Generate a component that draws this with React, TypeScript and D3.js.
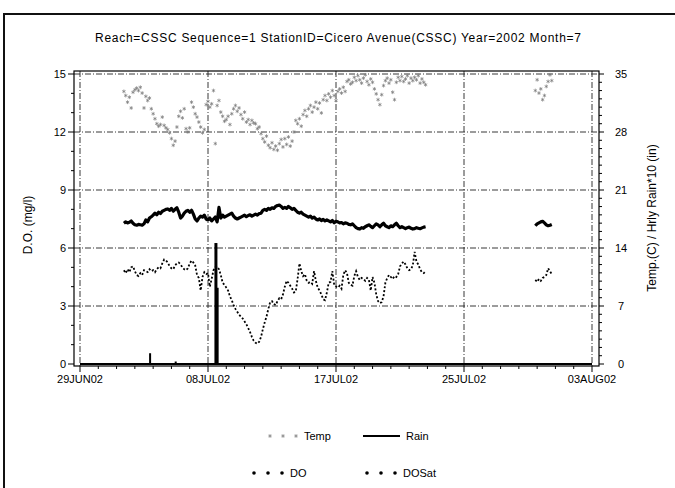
import React from 'react';
import * as d3 from 'd3';

const W = 675;
const H = 488;

const titleText = 'Reach=CSSC Sequence=1 StationID=Cicero Avenue(CSSC) Year=2002 Month=7';
const yLeftLabel = 'D.O. (mg/l)';
const yRightLabel = 'Temp.(C) / Hrly Rain*10 (in)';

const axisStart = '2002-06-29T00:00';
const axisEnd = '2002-08-03T00:00';
const xTickLabels = ['29JUN02', '08JUL02', '17JUL02', '25JUL02', '03AUG02'];
const leftTicks = [0, 3, 6, 9, 12, 15];
const rightTicks = [0, 7, 14, 21, 28, 35];

// 3-hourly readings, first segment starts 02JUL02 00:00
const seg1Start = '2002-07-02T00:00';
// second segment starts 30JUL02 03:00
const seg2Start = '2002-07-30T03:00';
const stepHours = 3;

const temp1 = [
  32.9, 32.4, 31.6, 32.2, 30.9, 32.8, 33.1, 33.3,
  33.0, 33.4, 32.7, 30.9, 32.3, 31.8, 32.1, 30.8,
  30.2, 29.6, 29.0, 28.7, 28.9, 29.8, 28.8, 28.5,
  28.3, 27.9, 27.2, 26.4, 26.9, 28.6, 29.9, 30.5,
  29.7, 30.8, 28.4, 28.0, 28.5, 31.6, 31.0, 30.2,
  29.8, 29.2, 28.6, 27.9, 28.3, 31.3, 31.7, 31.0,
  31.4, 33.0, 26.6, 31.2, 31.8, 30.4, 29.9, 29.3,
  29.5, 29.9, 28.9, 30.2, 30.8, 31.2, 30.5, 30.9,
  30.1, 29.6, 30.4, 29.2, 29.5, 28.9, 29.4, 29.1,
  29.0, 28.4, 28.6, 27.8, 27.2, 26.8, 27.5, 26.4,
  26.1, 26.7, 25.9, 26.3, 25.8, 26.6, 27.1, 26.2,
  27.2, 26.5, 27.4, 26.3, 26.9, 28.0, 29.4, 29.0,
  29.6, 28.7, 30.1, 30.6, 29.9, 30.8, 31.2, 30.4,
  31.0, 31.6, 30.8, 31.5, 30.3, 31.9, 32.4, 31.8,
  32.6, 32.2, 33.0, 32.4, 31.8, 32.9, 33.2, 32.7,
  33.4, 32.9, 34.1, 34.3, 33.8, 34.0, 34.6, 34.2,
  34.8, 34.3, 33.9, 34.5, 34.9, 34.1, 33.7, 34.4,
  34.0, 33.2, 32.6, 31.9, 31.3, 32.5, 33.6, 34.2,
  34.5, 33.9, 34.3, 32.8, 31.9, 34.0, 34.6, 34.2,
  34.7, 34.1, 34.4, 34.8, 33.9, 34.5, 34.2, 34.6,
  34.3, 34.8, 33.9, 34.4, 34.0, 33.7,
];
const temp2 = [33.0, 34.3, 32.7, 33.2, 31.9, 32.4, 33.5, 34.1, 34.9, 34.2];

const doSat1 = [
  7.28, 7.35, 7.30, 7.33, 7.40, 7.28, 7.20, 7.18,
  7.22, 7.20, 7.18, 7.25, 7.45, 7.35, 7.55, 7.62,
  7.70, 7.80, 7.72, 7.85, 7.78, 7.90, 7.95, 8.00,
  8.02, 7.95, 8.05, 7.90, 8.00, 8.08, 7.85, 7.55,
  7.65, 7.80, 7.90, 7.95, 7.85, 7.95, 7.75, 7.50,
  7.40, 7.55, 7.65, 7.60, 7.70, 7.50, 7.45, 7.55,
  7.40, 7.50, 7.60, 7.35, 8.10, 7.55, 7.70, 7.60,
  7.65, 7.70, 7.75, 7.80, 7.65, 7.55, 7.50, 7.55,
  7.60, 7.65, 7.70, 7.62, 7.68, 7.72, 7.65, 7.70,
  7.75, 7.70, 7.78, 7.80, 7.95, 8.00, 7.95, 8.05,
  8.00, 8.08, 8.05, 8.15, 8.20, 8.22, 8.15, 8.05,
  8.10, 8.05, 8.15, 8.08, 8.00, 8.05, 7.95, 7.85,
  7.80, 7.85, 7.75, 7.70, 7.65, 7.60, 7.65, 7.55,
  7.60, 7.50, 7.45, 7.50, 7.42, 7.48, 7.40, 7.45,
  7.40, 7.35, 7.42, 7.30, 7.38, 7.35, 7.30, 7.32,
  7.25, 7.30, 7.28, 7.22, 7.20, 7.25, 7.15, 7.05,
  7.00, 6.98, 7.05, 7.02, 7.10, 7.15, 7.20, 7.12,
  7.05, 7.15, 7.25, 7.20, 7.10, 7.20, 7.28, 7.15,
  7.10, 7.05, 7.15, 7.10, 7.20, 7.28, 7.15, 7.05,
  7.10, 7.05, 7.00, 7.05, 7.08, 7.02, 6.98, 7.00,
  7.05, 7.02, 7.00, 7.04, 7.08, 7.10,
];
const doSat2 = [7.15, 7.25, 7.30, 7.35, 7.38, 7.30, 7.20, 7.15, 7.18, 7.22];

const do1 = [
  4.85, 4.70, 4.90, 4.75, 5.00, 5.05, 4.80, 4.60,
  4.55, 4.70, 4.60, 4.85, 4.80, 4.75, 4.90, 4.80,
  4.85, 4.75, 4.90, 5.00, 4.95, 5.20, 5.40, 5.35,
  5.25, 5.05, 4.95, 4.90, 5.10, 5.20, 5.25, 5.15,
  5.00, 4.90, 4.85, 4.95, 5.20, 5.35, 5.25, 5.10,
  4.60, 4.45, 3.80, 4.50, 4.75, 4.65, 4.70, 4.00,
  4.40, 4.85, 5.00, 5.05, 4.90, 4.60, 4.20, 4.10,
  3.95, 3.80, 3.50, 3.30, 3.05, 2.85, 2.70, 2.55,
  2.45, 2.35, 2.20, 2.05, 1.85, 1.65, 1.40, 1.20,
  1.10, 1.05, 1.15, 1.40, 1.80, 2.15, 2.45, 2.85,
  3.20, 3.25, 3.10, 3.05, 3.25, 3.40, 3.35, 3.60,
  4.00, 4.30, 4.20, 4.05, 3.90, 3.70, 3.75, 4.40,
  5.20, 4.80, 4.55, 4.65, 4.30, 4.20, 4.25, 4.15,
  4.80, 4.30, 3.95, 3.80, 3.60, 3.35, 3.30, 3.70,
  4.20, 4.25, 4.80, 4.10, 4.00, 3.95, 4.05, 3.90,
  4.60, 4.85, 4.70, 4.20, 4.10, 4.05, 4.55, 4.80,
  4.50, 4.35, 4.45, 4.40, 4.30, 4.45, 4.35, 3.80,
  4.50, 4.20, 3.60, 3.25, 3.15, 3.20, 3.50, 4.20,
  4.45, 4.60, 4.50, 4.40, 4.55, 4.50, 4.65, 5.05,
  5.20, 5.30, 5.15, 4.95, 4.85, 4.90, 5.10, 5.80,
  5.30, 5.15, 4.90, 4.75, 4.70, 4.80,
];
const do2 = [4.35, 4.25, 4.40, 4.30, 4.45, 4.50, 4.60, 4.95, 4.80, 4.65];

const rainTimes = ['2002-07-03T19:00', '2002-07-05T13:00', '2002-07-08T07:00', '2002-07-08T09:00'];
const rainValues = [1.3, 0.3, 14.6, 9.2];

const parse = d3.timeParse('%Y-%m-%dT%H:%M');

function toPoints(start: string, vals: number[]) {
  const t0 = parse(start) as Date;
  return vals.map((v, i) => ({ t: d3.timeHour.offset(t0, i * stepHours), v }));
}

export default function App() {
  const t0 = parse(axisStart) as Date;
  const t1 = parse(axisEnd) as Date;
  const x = d3.scaleTime().domain([t0, t1]).range([80, 592]);
  const yL = d3.scaleLinear().domain([0, 15]).range([364, 74]);
  const yR = d3.scaleLinear().domain([0, 35]).range([364, 74]);

  const frame = { l: 74, r: 599, t: 71, b: 366 };
  const nMaj = xTickLabels.length;
  const majorDates = d3.range(nMaj).map((i) => new Date(+t0 + (i * (+t1 - +t0)) / (nMaj - 1)));
  const minorDates: Date[] = [];
  for (let i = 0; i < nMaj - 1; i++) {
    for (let k = 1; k < 7; k++) {
      minorDates.push(new Date(+majorDates[i] + (k * (+majorDates[i + 1] - +majorDates[i])) / 7));
    }
  }
  const leftMinor = d3.range(0, 16).filter((v) => v % 3 !== 0);
  const rightMinor = d3.range(0, 36).filter((v) => v % 7 !== 0);

  const lineL = d3.line<{ t: Date; v: number }>().x((d) => x(d.t)).y((d) => yL(d.v));
  const tempPts = [...toPoints(seg1Start, temp1), ...toPoints(seg2Start, temp2)];
  const doSatSegs = [toPoints(seg1Start, doSat1), toPoints(seg2Start, doSat2)];
  const doSegs = [toPoints(seg1Start, do1), toPoints(seg2Start, do2)];
  const rain = rainTimes.map((s, i) => ({ t: parse(s) as Date, v: rainValues[i] }));

  const star = d3.symbol().type(d3.symbolAsterisk).size(10)() as string;
  const grid = '6 2 1 2';
  const font = '"Liberation Sans", Arial, Helvetica, sans-serif';

  return (
    <svg width={W} height={H} style={{ position: 'absolute', left: 0, top: 0, background: '#fff' }} fontFamily={font}>
      <rect x={0} y={0} width={W} height={H} fill="#fff" />
      <path d={`M4,${H} V14 H${W}`} fill="none" stroke="#111" strokeWidth={2} />
      <text x={338} y={42} fontSize={12} textAnchor="middle" textLength={486} lengthAdjust="spacing">{titleText}</text>

      {/* gridlines */}
      {leftTicks.filter((v) => v > 0).map((v) => (
        <line key={'hg' + v} x1={frame.l} x2={frame.r} y1={yL(v)} y2={yL(v)} stroke="#222" strokeWidth={0.9} strokeDasharray={grid} />
      ))}
      {majorDates.map((d, i) => (
        <line key={'vg' + i} x1={x(d)} x2={x(d)} y1={frame.t} y2={frame.b} stroke="#222" strokeWidth={0.9} strokeDasharray={grid} />
      ))}

      {/* frame */}
      <rect x={frame.l} y={frame.t} width={frame.r - frame.l} height={frame.b - frame.t} fill="none" stroke="#000" strokeWidth={1.2} />

      {/* left axis */}
      {leftTicks.map((v) => (
        <g key={'lt' + v}>
          <line x1={frame.l - 6} x2={frame.l} y1={yL(v)} y2={yL(v)} stroke="#000" />
          <text x={frame.l - 8} y={yL(v) + 4} fontSize={11} textAnchor="end">{v}</text>
        </g>
      ))}
      {leftMinor.map((v) => (
        <line key={'lm' + v} x1={frame.l - 3} x2={frame.l} y1={yL(v)} y2={yL(v)} stroke="#000" />
      ))}
      {/* right axis */}
      {rightTicks.map((v) => (
        <g key={'rt' + v}>
          <line x1={frame.r} x2={frame.r + 5} y1={yR(v)} y2={yR(v)} stroke="#000" />
          <text x={621} y={yR(v) + 4} fontSize={11} textAnchor="middle">{v}</text>
        </g>
      ))}
      {rightMinor.map((v) => (
        <line key={'rm' + v} x1={frame.r} x2={frame.r + 3} y1={yR(v)} y2={yR(v)} stroke="#000" />
      ))}
      {/* bottom axis */}
      {majorDates.map((d, i) => (
        <g key={'xt' + i}>
          <line x1={x(d)} x2={x(d)} y1={frame.b} y2={frame.b + 6} stroke="#000" />
          <text x={x(d)} y={frame.b + 17} fontSize={11} textAnchor="middle">{xTickLabels[i]}</text>
        </g>
      ))}
      {minorDates.map((d, i) => (
        <line key={'xm' + i} x1={x(d)} x2={x(d)} y1={frame.b} y2={frame.b + 3} stroke="#000" />
      ))}

      {/* axis titles */}
      <text transform={`translate(32,225) rotate(-90)`} fontSize={12} textAnchor="middle">{yLeftLabel}</text>
      <text transform={`translate(656,218) rotate(-90)`} fontSize={12} textAnchor="middle">{yRightLabel}</text>

      {/* rain */}
      <line x1={x(t0)} x2={x(t1)} y1={yR(0)} y2={yR(0)} stroke="#000" strokeWidth={2} />
      {rain.map((d, i) => (
        <line key={'rn' + i} x1={x(d.t)} x2={x(d.t)} y1={yR(0)} y2={yR(d.v)} stroke="#000" strokeWidth={d.v > 5 ? 3 : 2} />
      ))}

      {/* temp stars */}
      {tempPts.map((d, i) => (
        <path key={'tp' + i} d={star} transform={`translate(${x(d.t)},${yR(d.v)})`} fill="none" stroke="#7a7a7a" strokeWidth={0.7} />
      ))}

      {/* DOSat */}
      {doSatSegs.map((s, i) => (
        <path key={'ds' + i} d={lineL(s) as string} fill="none" stroke="#000" strokeWidth={3.2} strokeLinejoin="round" />
      ))}
      {/* DO */}
      {doSegs.map((s, i) => (
        <path key={'do' + i} d={lineL(s) as string} fill="none" stroke="#000" strokeWidth={1.8} strokeDasharray="2 2" />
      ))}

      {/* legend */}
      {[270, 283, 296].map((cx) => (
        <path key={'ls' + cx} d={star} transform={`translate(${cx},436)`} fill="none" stroke="#7a7a7a" strokeWidth={0.7} />
      ))}
      <text x={304} y={440} fontSize={11}>Temp</text>
      <line x1={363} x2={400} y1={436} y2={436} stroke="#000" strokeWidth={2} />
      <text x={406} y={440} fontSize={11}>Rain</text>
      {[254, 268, 282].map((cx) => (
        <circle key={'ld' + cx} cx={cx} cy={473} r={1.8} fill="#000" />
      ))}
      <text x={290} y={477} fontSize={11}>DO</text>
      {[367, 381, 395].map((cx) => (
        <circle key={'lt2' + cx} cx={cx} cy={473} r={1.8} fill="#000" />
      ))}
      <text x={403} y={477} fontSize={11}>DOSat</text>
    </svg>
  );
}
